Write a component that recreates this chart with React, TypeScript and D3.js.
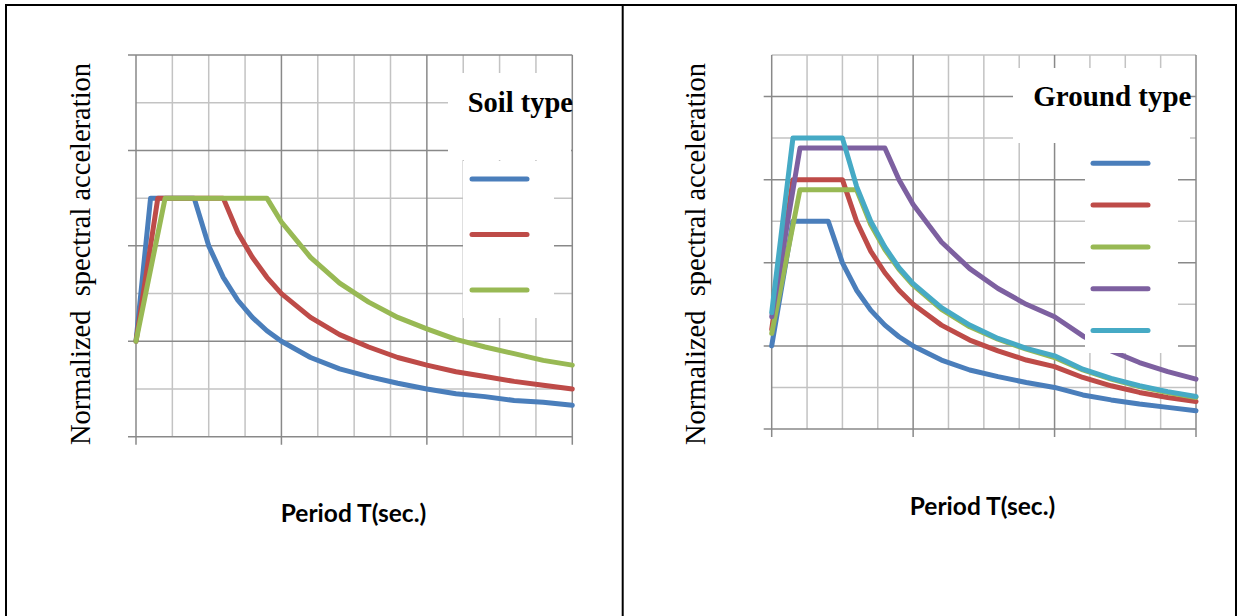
import React, { useEffect, useRef } from "react";
import * as d3 from "d3";

// Left chart: normalized spectra per soil type, [T (sec), Sa/ag]
const soilA = [[0, 1.0], [0.1, 2.5], [0.4, 2.5], [0.5, 2.0], [0.6, 1.67], [0.7, 1.43], [0.8, 1.25], [0.9, 1.11], [1.0, 1.0], [1.2, 0.83], [1.4, 0.71], [1.6, 0.63], [1.8, 0.56], [2.0, 0.5], [2.2, 0.45], [2.4, 0.42], [2.6, 0.38], [2.8, 0.36], [3.0, 0.33]];
const soilB = [[0, 1.0], [0.15, 2.5], [0.6, 2.5], [0.7, 2.14], [0.8, 1.88], [0.9, 1.67], [1.0, 1.5], [1.2, 1.25], [1.4, 1.07], [1.6, 0.94], [1.8, 0.83], [2.0, 0.75], [2.2, 0.68], [2.4, 0.63], [2.6, 0.58], [2.8, 0.54], [3.0, 0.5]];
const soilC = [[0, 1.0], [0.2, 2.5], [0.9, 2.5], [1.0, 2.25], [1.2, 1.88], [1.4, 1.61], [1.6, 1.41], [1.8, 1.25], [2.0, 1.13], [2.2, 1.02], [2.4, 0.94], [2.6, 0.87], [2.8, 0.8], [3.0, 0.75]];

// Right chart: normalized spectra per ground type
const groundA = [[0, 1.0], [0.15, 2.5], [0.4, 2.5], [0.5, 2.0], [0.6, 1.67], [0.7, 1.43], [0.8, 1.25], [0.9, 1.11], [1.0, 1.0], [1.2, 0.83], [1.4, 0.71], [1.6, 0.63], [1.8, 0.56], [2.0, 0.5], [2.2, 0.41], [2.4, 0.35], [2.6, 0.3], [2.8, 0.26], [3.0, 0.22]];
const groundB = [[0, 1.2], [0.15, 3.0], [0.5, 3.0], [0.6, 2.5], [0.7, 2.14], [0.8, 1.88], [0.9, 1.67], [1.0, 1.5], [1.2, 1.25], [1.4, 1.07], [1.6, 0.94], [1.8, 0.83], [2.0, 0.75], [2.2, 0.62], [2.4, 0.52], [2.6, 0.44], [2.8, 0.38], [3.0, 0.33]];
const groundC = [[0, 1.15], [0.2, 2.88], [0.6, 2.88], [0.7, 2.46], [0.8, 2.16], [0.9, 1.92], [1.0, 1.73], [1.2, 1.44], [1.4, 1.23], [1.6, 1.08], [1.8, 0.96], [2.0, 0.86], [2.2, 0.71], [2.4, 0.6], [2.6, 0.51], [2.8, 0.44], [3.0, 0.38]];
const groundD = [[0, 1.35], [0.2, 3.38], [0.8, 3.38], [0.9, 3.0], [1.0, 2.7], [1.2, 2.25], [1.4, 1.93], [1.6, 1.69], [1.8, 1.5], [2.0, 1.35], [2.2, 1.12], [2.4, 0.94], [2.6, 0.8], [2.8, 0.69], [3.0, 0.6]];
const groundE = [[0, 1.4], [0.15, 3.5], [0.5, 3.5], [0.6, 2.92], [0.7, 2.5], [0.8, 2.19], [0.9, 1.94], [1.0, 1.75], [1.2, 1.46], [1.4, 1.25], [1.6, 1.09], [1.8, 0.97], [2.0, 0.88], [2.2, 0.72], [2.4, 0.61], [2.6, 0.52], [2.8, 0.45], [3.0, 0.39]];

const seriesColors = ["#4a7ebb", "#be4b48", "#98b954", "#7d60a0", "#46aac5"];
const yLabel = "Normalized  spectral acceleration";
const xLabel = "Period T(sec.)";

const panels = [
  {
    series: [soilA, soilB, soilC],
    title: "Soil type",
    xMax: 3,
    yMax: 4,
    left: 136, right: 572.3, top: 55, bottom: 436.7,
    titleBox: [448, 73, 571, 160],
    entryBox: [463, 161, 554, 318],
    swatchX: [472, 527], swatchY0: 179, swatchStep: 55.5,
    titleX: 467.7, titleY: 111.7, titleSize: 28.5,
    yLabelX: 90, xLabelX: 353.5, xLabelY: 521.7,
  },
  {
    series: [groundA, groundB, groundC, groundD, groundE],
    title: "Ground type",
    xMax: 3,
    yMax: 4.5,
    left: 771.7, right: 1196, top: 55, bottom: 429,
    titleBox: [1013, 68, 1190, 143],
    entryBox: [1085, 143, 1178, 353],
    swatchX: [1093, 1148], swatchY0: 163.3, swatchStep: 41.8,
    titleX: 1033.3, titleY: 106, titleSize: 29,
    yLabelX: 705, xLabelX: 982.5, xLabelY: 515,
  },
];

function drawPanel(svg: any, p: any) {
  const g = svg.append("g");
  const x = d3.scaleLinear().domain([0, p.xMax]).range([p.left, p.right]);
  const y = d3.scaleLinear().domain([0, p.yMax]).range([p.bottom, p.top]);
  const isMajor = (v: number) => Math.abs(v - Math.round(v)) < 1e-9;
  const xs = d3.range(0, p.xMax + 1e-9, 0.25);
  const ys = d3.range(0, p.yMax + 1e-9, 0.5);

  // minor grid
  g.selectAll(".mx").data(xs.filter((v) => !isMajor(v))).join("line")
    .attr("x1", (d: number) => x(d)).attr("x2", (d: number) => x(d))
    .attr("y1", p.top).attr("y2", p.bottom)
    .attr("stroke", "#c3c3c3").attr("stroke-width", 1.5);
  g.selectAll(".my").data(ys.filter((v) => !isMajor(v))).join("line")
    .attr("x1", p.left).attr("x2", p.right)
    .attr("y1", (d: number) => y(d)).attr("y2", (d: number) => y(d))
    .attr("stroke", "#c3c3c3").attr("stroke-width", 1.5);

  // major grid + ticks
  const majX = xs.filter(isMajor);
  const majY = ys.filter(isMajor);
  g.selectAll(".Mx").data(majX).join("line")
    .attr("x1", (d: number) => x(d)).attr("x2", (d: number) => x(d))
    .attr("y1", p.top).attr("y2", p.bottom + 8)
    .attr("stroke", "#898989").attr("stroke-width", 1.5);
  g.selectAll(".My").data(majY).join("line")
    .attr("x1", p.left - 8).attr("x2", p.right)
    .attr("y1", (d: number) => y(d)).attr("y2", (d: number) => y(d))
    .attr("stroke", "#898989").attr("stroke-width", 1.5);

  // series
  const line = d3.line().x((d: any) => x(d[0])).y((d: any) => y(d[1]));
  p.series.forEach((s: number[][], i: number) => {
    g.append("path")
      .attr("d", line(s as any))
      .attr("fill", "none")
      .attr("stroke", seriesColors[i])
      .attr("stroke-width", 5)
      .attr("stroke-linejoin", "round")
      .attr("stroke-linecap", "round");
  });

  // legend boxes
  const [tx0, ty0, tx1, ty1] = p.titleBox;
  g.append("rect").attr("x", tx0).attr("y", ty0).attr("width", tx1 - tx0).attr("height", ty1 - ty0).attr("fill", "#fff");
  const [ex0, ey0, ex1, ey1] = p.entryBox;
  g.append("rect").attr("x", ex0).attr("y", ey0).attr("width", ex1 - ex0).attr("height", ey1 - ey0).attr("fill", "#fff");
  p.series.forEach((_: any, i: number) => {
    g.append("line")
      .attr("x1", p.swatchX[0]).attr("x2", p.swatchX[1])
      .attr("y1", p.swatchY0 + i * p.swatchStep).attr("y2", p.swatchY0 + i * p.swatchStep)
      .attr("stroke", seriesColors[i]).attr("stroke-width", 5).attr("stroke-linecap", "round");
  });
  g.append("text")
    .attr("x", p.titleX).attr("y", p.titleY)
    .style("font-family", "'Liberation Serif', 'Times New Roman', serif")
    .style("font-weight", "bold").style("font-size", `${p.titleSize}px`)
    .text(p.title);

  // axis titles
  const cy = (63 + 445) / 2;
  g.append("text")
    .attr("transform", `translate(${p.yLabelX},${cy}) rotate(-90)`)
    .attr("text-anchor", "middle")
    .style("font-family", "'Liberation Serif', 'Times New Roman', serif")
    .style("font-size", "28.5px").style("white-space", "pre")
    .text(yLabel);
  g.append("text")
    .attr("x", p.xLabelX).attr("y", p.xLabelY)
    .attr("text-anchor", "middle")
    .style("font-family", "Lato, 'Open Sans', sans-serif")
    .style("font-weight", "bold").style("font-size", "24.5px")
    .text(xLabel);
}

const App = () => {
  const svgRef = useRef<SVGSVGElement>(null);

  useEffect(() => {
    const W = 1240;
    const H = 616;
    const svg = d3.select(svgRef.current);
    svg.selectAll("*").remove();
    svg.attr("width", W).attr("height", H);
    svg.append("rect").attr("width", W).attr("height", H).attr("fill", "#fff");

    panels.forEach((p) => drawPanel(svg, p));

    // table borders
    const b = svg.append("g").attr("stroke", "#000").attr("stroke-width", 2);
    b.append("line").attr("x1", 5).attr("x2", 1237).attr("y1", 5).attr("y2", 5);
    [6, 622.7, 1236].forEach((xv) => {
      b.append("line").attr("x1", xv).attr("x2", xv).attr("y1", 4).attr("y2", H);
    });
  }, []);

  return <svg ref={svgRef} style={{ position: "absolute", left: 0, top: 0 }}></svg>;
};

export default App;
